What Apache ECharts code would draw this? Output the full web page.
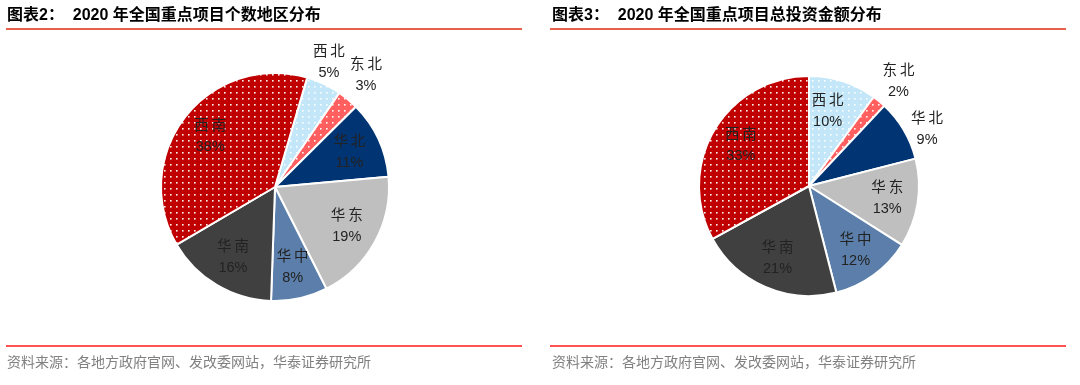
<!DOCTYPE html>
<html>
<head>
<meta charset="utf-8">
<script src="https://cdn.jsdelivr.net/npm/echarts@6/dist/echarts.min.js"></script>
<style>
html,body{margin:0;padding:0;background:#fff;}
#chart{width:1080px;height:385px;}
</style>
</head>
<body>
<div id="chart"></div>
<script>
// ---- data ----
const categories = ['西北', '东北', '华北', '华东', '华中', '华南', '西南'];
const countShare = [5, 3, 11, 19, 8, 16, 38];        // 图表2 个数
const investShare = [10, 2, 9, 13, 12, 21, 33];      // 图表3 总投资金额
const leftTitle = '图表2：  2020 年全国重点项目个数地区分布';
const rightTitle = '图表3：  2020 年全国重点项目总投资金额分布';
const sourceText = '资料来源：各地方政府官网、发改委网站，华泰证券研究所';

// ---- styles ----
function dotPattern(bg) {
  const c = document.createElement('canvas');
  c.width = 6; c.height = 6;
  const g = c.getContext('2d');
  g.fillStyle = bg; g.fillRect(0, 0, 6, 6);
  g.fillStyle = 'rgba(255,255,255,0.95)';
  g.fillRect(2, 2, 1.6, 1.6);
  return { image: c, repeat: 'repeat' };
}
const colorMap = {
  '西北': dotPattern('#C3E7F8'),
  '东北': dotPattern('#FF5F5F'),
  '华北': '#003473',
  '华东': '#BFBFBF',
  '华中': '#5B7FAA',
  '华南': '#404040',
  '西南': dotPattern('#C00000')
};
const font = '"Liberation Sans", "Noto Sans CJK SC", sans-serif';

// label placement style: [angle shift (deg), radius factor]
const leftLabelStyle = { '西北': [-2, 1.19], '东北': [-0.5, 1.26] };
const rightLabelStyle = { '西北': [-4, 0.7], '东北': [1, 1.25], '华北': [5, 1.19] };

function makePie(values, center, r, firstAngle, labelStyle) {
  const total = values.reduce((a, b) => a + b, 0);
  const mids = [];
  let cum = 0;
  values.forEach(v => { mids.push(firstAngle + (cum + v / 2) / total * 360); cum += v; });
  return {
    type: 'pie',
    center: center,
    radius: [0, r],
    startAngle: 90 - firstAngle,
    clockwise: true,
    avoidLabelOverlap: false,
    silent: true,
    itemStyle: { borderColor: '#ffffff', borderWidth: 2 },
    label: {
      show: true,
      position: 'inside',
      formatter: p => p.name.split('').join('\u2009') + '\n' + p.value + '%',
      fontFamily: font,
      fontSize: 14.5,
      lineHeight: 21,
      color: '#222222',
      align: 'center'
    },
    labelLine: { show: false },
    labelLayout: function (p) {
      const s = labelStyle[categories[p.dataIndex]] || [0, 0.72];
      const a = (mids[p.dataIndex] + s[0]) * Math.PI / 180;
      return {
        x: center[0] + s[1] * r * Math.sin(a),
        y: center[1] - s[1] * r * Math.cos(a),
        align: 'center',
        verticalAlign: 'middle'
      };
    },
    data: categories.map((c, i) => ({ name: c, value: values[i], itemStyle: { color: colorMap[c] } }))
  };
}

const chart = echarts.init(document.getElementById('chart'), null, { renderer: 'canvas' });
chart.setOption({
  animation: false,
  backgroundColor: '#ffffff',
  series: [
    makePie(countShare, [275, 187], 114, 16.4, leftLabelStyle),
    makePie(investShare, [809, 186], 110, 0, rightLabelStyle)
  ],
  graphic: [
    { type: 'text', left: 7, top: 8, style: { text: leftTitle, font: 'bold 16px ' + font, fill: '#000' } },
    { type: 'text', left: 552, top: 8, style: { text: rightTitle, font: 'bold 16px ' + font, fill: '#000' } },
    { type: 'line', shape: { x1: 6, y1: 29, x2: 522, y2: 29 }, style: { stroke: '#E8604C', lineWidth: 2 } },
    { type: 'line', shape: { x1: 550, y1: 29, x2: 1066, y2: 29 }, style: { stroke: '#E8604C', lineWidth: 2 } },
    { type: 'line', shape: { x1: 6, y1: 346, x2: 522, y2: 346 }, style: { stroke: '#FF1A1A', lineWidth: 1.5 } },
    { type: 'line', shape: { x1: 550, y1: 346, x2: 1066, y2: 346 }, style: { stroke: '#FF1A1A', lineWidth: 1.5 } },
    { type: 'text', left: 7, top: 356, style: { text: sourceText, font: '14px ' + font, fill: '#808080' } },
    { type: 'text', left: 552, top: 356, style: { text: sourceText, font: '14px ' + font, fill: '#808080' } }
  ]
});
</script>
</body>
</html>
